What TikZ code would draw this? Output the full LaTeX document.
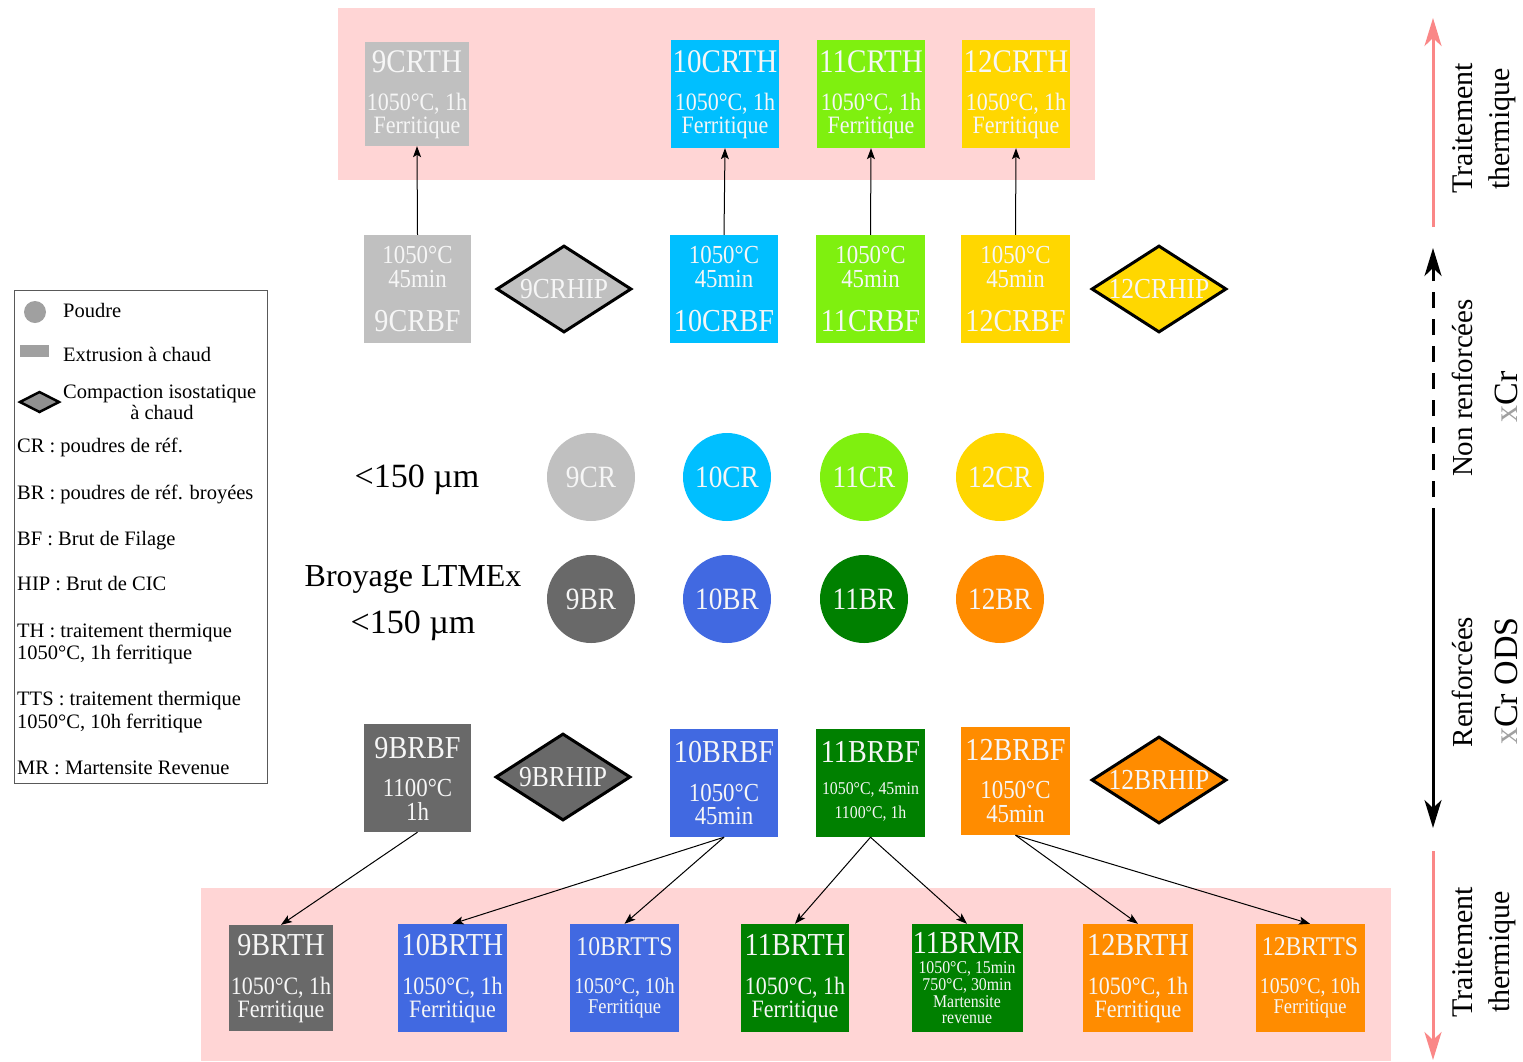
\documentclass[tikz,border=0pt]{standalone}
\usepackage{fontspec}
\setmainfont{Liberation Serif}
\newfontfamily\cf[FakeStretch=0.88]{Liberation Serif}
\usetikzlibrary{arrows.meta,shapes.geometric}
\definecolor{cA}{HTML}{C0C0C0}
\definecolor{cB}{HTML}{00BFFF}
\definecolor{cC}{HTML}{7FF00F}
\definecolor{cD}{HTML}{FFD700}
\definecolor{dA}{HTML}{696969}
\definecolor{dB}{HTML}{4169E1}
\definecolor{dC}{HTML}{008000}
\definecolor{dD}{HTML}{FF8C00}
\definecolor{band}{HTML}{FFD5D5}
\definecolor{pinkarrow}{HTML}{FA8787}
\definecolor{txtw}{HTML}{F6F6F6}
\definecolor{legray}{HTML}{A0A0A0}
\definecolor{legdia}{HTML}{909090}
\newcommand{\fs}[1]{\fontsize{#1}{#1}\selectfont}
\begin{document}
\begin{tikzpicture}[x=1pt,y=-1pt,
  box/.style={rectangle, inner sep=0pt, draw=none},
  lbl/.style={anchor=base, inner sep=0pt, text=txtw},
  dia/.style={diamond, draw=black, line width=3pt, inner sep=0pt, aspect=1.55, minimum width=135pt, minimum height=87pt, text=txtw, font=\cf\fs{29}},
  pd/.style={circle, inner sep=0pt, minimum size=88pt, text=txtw, font=\cf\fs{31}},
  arr/.style={-{Stealth[length=11pt,width=8pt,inset=2.5pt]}, line width=1pt, black},
  bigtip/.style={-{Stealth[length=28pt,width=17pt,inset=8pt]}, line width=3pt},
  lt/.style={anchor=base west, inner sep=0pt, font=\fs{20.5}},
  rot/.style={rotate=90, anchor=base, inner sep=0pt},
  lab/.style={anchor=base, inner sep=0pt, font=\fs{33}}
]
\useasboundingbox (0,0) rectangle (1523,1061);
\clip (0,0) rectangle (1523,1061);
\fill[white] (0,0) rectangle (1523,1061);

% bands
\fill[band] (338,8) rectangle (1095,180);
\fill[band] (201,888) rectangle (1391,1061);

% ---------- top TH row ----------
\node[box, fill=cA, minimum width=104pt, minimum height=104pt] (t9) at (417,94) {};
\node[lbl, font=\cf\fs{33}] (t9a) at (417,72) {9CRTH};
\node[lbl, font=\cf\fs{25}] (t9b) at (417,110) {1050°C, 1h};
\node[lbl, font=\cf\fs{25}] (t9c) at (417,133) {Ferritique};

\node[box, fill=cB, minimum width=108pt, minimum height=108pt] (t10) at (725,94) {};
\node[lbl, font=\cf\fs{33}] (t10a) at (725,72) {10CRTH};
\node[lbl, font=\cf\fs{25}] (t10b) at (725,110) {1050°C, 1h};
\node[lbl, font=\cf\fs{25}] (t10c) at (725,133) {Ferritique};

\node[box, fill=cC, minimum width=108pt, minimum height=108pt] (t11) at (871,94) {};
\node[lbl, font=\cf\fs{33}] (t11a) at (871,72) {11CRTH};
\node[lbl, font=\cf\fs{25}] (t11b) at (871,110) {1050°C, 1h};
\node[lbl, font=\cf\fs{25}] (t11c) at (871,133) {Ferritique};

\node[box, fill=cD, minimum width=108pt, minimum height=108pt] (t12) at (1016,94) {};
\node[lbl, font=\cf\fs{33}] (t12a) at (1016,72) {12CRTH};
\node[lbl, font=\cf\fs{25}] (t12b) at (1016,110) {1050°C, 1h};
\node[lbl, font=\cf\fs{25}] (t12c) at (1016,133) {Ferritique};

% ---------- CR BF row ----------
\node[box, fill=cA, minimum width=107pt, minimum height=108pt] (b9) at (417.5,289) {};
\node[lbl, font=\cf\fs{26}] (b9a) at (417.5,263) {1050°C};
\node[lbl, font=\cf\fs{26}] (b9b) at (417.5,287) {45min};
\node[lbl, font=\cf\fs{32}] (b9c) at (417.5,331) {9CRBF};

\node[box, fill=cB, minimum width=108pt, minimum height=108pt] (b10) at (724,289) {};
\node[lbl, font=\cf\fs{26}] (b10a) at (724,263) {1050°C};
\node[lbl, font=\cf\fs{26}] (b10b) at (724,287) {45min};
\node[lbl, font=\cf\fs{32}] (b10c) at (724,331) {10CRBF};

\node[box, fill=cC, minimum width=109pt, minimum height=108pt] (b11) at (870.5,289) {};
\node[lbl, font=\cf\fs{26}] (b11a) at (870.5,263) {1050°C};
\node[lbl, font=\cf\fs{26}] (b11b) at (870.5,287) {45min};
\node[lbl, font=\cf\fs{32}] (b11c) at (870.5,331) {11CRBF};

\node[box, fill=cD, minimum width=109pt, minimum height=108pt] (b12) at (1015.5,289) {};
\node[lbl, font=\cf\fs{26}] (b12a) at (1015.5,263) {1050°C};
\node[lbl, font=\cf\fs{26}] (b12b) at (1015.5,287) {45min};
\node[lbl, font=\cf\fs{32}] (b12c) at (1015.5,331) {12CRBF};

\node[dia, fill=cA] (h9) at (564,289) {9CRHIP};
\node[dia, fill=cD] (h12) at (1159,289) {12CRHIP};

\draw[arr] (b9.north) -- (t9.south);
\draw[arr] (b10.north) -- (t10.south);
\draw[arr] (b11.north) -- (t11.south);
\draw[arr] (b12.north) -- (t12.south);

% ---------- powders ----------
\node[lab, font=\fs{34}] (s1) at (417,487) {<150 µm};
\node[lab, font=\fs{32}] (s2) at (413,586) {Broyage LTMEx};
\node[lab, font=\fs{34}] (s3) at (413,633) {<150 µm};

\node[pd, fill=cA] (p9) at (591,477) {9CR};
\node[pd, fill=cB] (p10) at (727,477) {10CR};
\node[pd, fill=cC] (p11) at (864,477) {11CR};
\node[pd, fill=cD] (p12) at (1000,477) {12CR};
\node[pd, fill=dA] (q9) at (591,599) {9BR};
\node[pd, fill=dB] (q10) at (727,599) {10BR};
\node[pd, fill=dC] (q11) at (864,599) {11BR};
\node[pd, fill=dD] (q12) at (1000,599) {12BR};

% ---------- BR BF row ----------
\node[box, fill=dA, minimum width=107pt, minimum height=108pt] (r9) at (417.5,778) {};
\node[lbl, font=\cf\fs{32}] (r9a) at (417.5,758) {9BRBF};
\node[lbl, font=\cf\fs{26}] (r9b) at (417.5,796) {1100°C};
\node[lbl, font=\cf\fs{26}] (r9c) at (417.5,820) {1h};

\node[box, fill=dB, minimum width=108pt, minimum height=108pt] (r10) at (724,783) {};
\node[lbl, font=\cf\fs{32}] (r10a) at (724,762) {10BRBF};
\node[lbl, font=\cf\fs{26}] (r10b) at (724,801) {1050°C};
\node[lbl, font=\cf\fs{26}] (r10c) at (724,824) {45min};

\node[box, fill=dC, minimum width=109pt, minimum height=108pt] (r11) at (870.5,783) {};
\node[lbl, font=\cf\fs{32}] (r11a) at (870.5,762) {11BRBF};
\node[lbl, font=\cf\fs{18}] (r11b) at (870.5,794) {1050°C, 45min};
\node[lbl, font=\cf\fs{18}] (r11c) at (870.5,818) {1100°C, 1h};

\node[box, fill=dD, minimum width=109pt, minimum height=108pt] (r12) at (1015.5,781) {};
\node[lbl, font=\cf\fs{32}] (r12a) at (1015.5,760) {12BRBF};
\node[lbl, font=\cf\fs{26}] (r12b) at (1015.5,798) {1050°C};
\node[lbl, font=\cf\fs{26}] (r12c) at (1015.5,822) {45min};

\node[dia, fill=dA] (g9) at (563,777) {9BRHIP};
\node[dia, fill=dD] (g12) at (1159,780) {12BRHIP};

% ---------- bottom TH row ----------
\node[box, fill=dA, minimum width=104pt, minimum height=106pt] (u1) at (281,978) {};
\node[lbl, font=\cf\fs{32}] (u1a) at (281,955) {9BRTH};
\node[lbl, font=\cf\fs{25}] (u1b) at (281,994) {1050°C, 1h};
\node[lbl, font=\cf\fs{25}] (u1c) at (281,1017) {Ferritique};

\node[box, fill=dB, minimum width=109pt, minimum height=108pt] (u2) at (452.5,978) {};
\node[lbl, font=\cf\fs{32}] (u2a) at (452.5,955) {10BRTH};
\node[lbl, font=\cf\fs{25}] (u2b) at (452.5,994) {1050°C, 1h};
\node[lbl, font=\cf\fs{25}] (u2c) at (452.5,1017) {Ferritique};

\node[box, fill=dB, minimum width=109pt, minimum height=108pt] (u3) at (624.5,978) {};
\node[lbl, font=\cf\fs{27}] (u3a) at (624.5,955) {10BRTTS};
\node[lbl, font=\cf\fs{22.5}] (u3b) at (624.5,993) {1050°C, 10h};
\node[lbl, font=\cf\fs{21}] (u3c) at (624.5,1013) {Ferritique};

\node[box, fill=dC, minimum width=108pt, minimum height=108pt] (u4) at (795,978) {};
\node[lbl, font=\cf\fs{32}] (u4a) at (795,955) {11BRTH};
\node[lbl, font=\cf\fs{25}] (u4b) at (795,994) {1050°C, 1h};
\node[lbl, font=\cf\fs{25}] (u4c) at (795,1017) {Ferritique};

\node[box, fill=dC, minimum width=111pt, minimum height=108pt] (u5) at (967,978) {};
\node[lbl, font=\cf\fs{32}] (u5a) at (967,953) {11BRMR};
\node[lbl, font=\cf\fs{18}] (u5b) at (967,973) {1050°C, 15min};
\node[lbl, font=\cf\fs{18}] (u5c) at (967,990) {750°C, 30min};
\node[lbl, font=\cf\fs{18}] (u5d) at (967,1007) {Martensite};
\node[lbl, font=\cf\fs{18}] (u5e) at (967,1023) {revenue};

\node[box, fill=dD, minimum width=110pt, minimum height=108pt] (u6) at (1138,978) {};
\node[lbl, font=\cf\fs{32}] (u6a) at (1138,955) {12BRTH};
\node[lbl, font=\cf\fs{25}] (u6b) at (1138,994) {1050°C, 1h};
\node[lbl, font=\cf\fs{25}] (u6c) at (1138,1017) {Ferritique};

\node[box, fill=dD, minimum width=109pt, minimum height=108pt] (u7) at (1310,978) {};
\node[lbl, font=\cf\fs{27}] (u7a) at (1310,955) {12BRTTS};
\node[lbl, font=\cf\fs{22.5}] (u7b) at (1310,993) {1050°C, 10h};
\node[lbl, font=\cf\fs{21}] (u7c) at (1310,1013) {Ferritique};

\draw[arr] (r9.south) -- (u1.north);
\draw[arr] (r10.south) -- (u2.north);
\draw[arr] (r10.south) -- (u3.north);
\draw[arr] (r11.south) -- (u4.north);
\draw[arr] (r11.south) -- (u5.north);
\draw[arr] (r12.south) -- (u6.north);
\draw[arr] (r12.south) -- (u7.north);

% ---------- legend ----------
\node[rectangle, draw=gray!70!black, line width=1pt, inner sep=0pt, minimum width=253pt, minimum height=493pt] (leg) at (140.5,536.5) {};
\node[circle, fill=legray, inner sep=0pt, minimum size=22pt] (lc) at (35,312) {};
\node[box, fill=legray, minimum width=29pt, minimum height=12pt] (lr) at (34.5,351) {};
\node[diamond, draw=black, fill=legdia, line width=2.5pt, inner sep=0pt, aspect=1.8, minimum width=40pt, minimum height=21pt] (ld) at (39.5,402) {};
\node[lt] (l1) at (63,317) {Poudre};
\node[lt] (l2) at (63,361) {Extrusion à chaud};
\node[lt] (l3) at (63,398) {Compaction isostatique};
\node[anchor=base, inner sep=0pt, font=\fs{20.5}] (l4) at (162,419) {à chaud};
\node[lt] (l5) at (17,452) {CR : poudres de réf.};
\node[lt] (l6) at (17,499) {BR : poudres de réf. broyées};
\node[lt] (l7) at (17,545) {BF : Brut de Filage};
\node[lt] (l8) at (17,590) {HIP : Brut de CIC};
\node[lt] (l9) at (17,637) {TH : traitement thermique};
\node[lt] (l10) at (17,659) {1050°C, 1h ferritique};
\node[lt] (l11) at (17,705) {TTS : traitement thermique};
\node[lt] (l12) at (17,728) {1050°C, 10h ferritique};
\node[lt] (l13) at (17,774) {MR : Martensite Revenue};

% ---------- right side ----------
\coordinate (pt1) at (1433,227);
\coordinate (pt2) at (1433,18);
\coordinate (bk1) at (1433,248);
\coordinate (bkm) at (1433,524);
\coordinate (bk2) at (1433,828);
\coordinate (pb1) at (1433,851);
\coordinate (pb2) at (1433,1060);
\draw[bigtip, pinkarrow] (pt1) -- (pt2);
\draw[bigtip, black, dash pattern=on 16pt off 11pt] (bkm) -- (bk1);
\draw[bigtip, black] (bkm) -- (bk2);
\draw[bigtip, pinkarrow] (pb1) -- (pb2);

\node[rot, font=\fs{30}] (rt1) at (1472,128) {Traitement};
\node[rot, font=\fs{30}] (rt2) at (1509,129) {thermique};
\node[rot, font=\fs{29}] (rn1) at (1472,388) {Non renforcées};
\node[rot, font=\fs{34}] (rn2) at (1517,397) {\textcolor{legray}{x}Cr};
\node[rot, font=\fs{29}] (rr1) at (1472,682) {Renforcées};
\node[rot, font=\fs{34}] (rr2) at (1517,681) {\textcolor{legray}{x}Cr ODS};
\node[rot, font=\fs{30}] (rb1) at (1472,952) {Traitement};
\node[rot, font=\fs{30}] (rb2) at (1509,952) {thermique};
\end{tikzpicture}
\end{document}
